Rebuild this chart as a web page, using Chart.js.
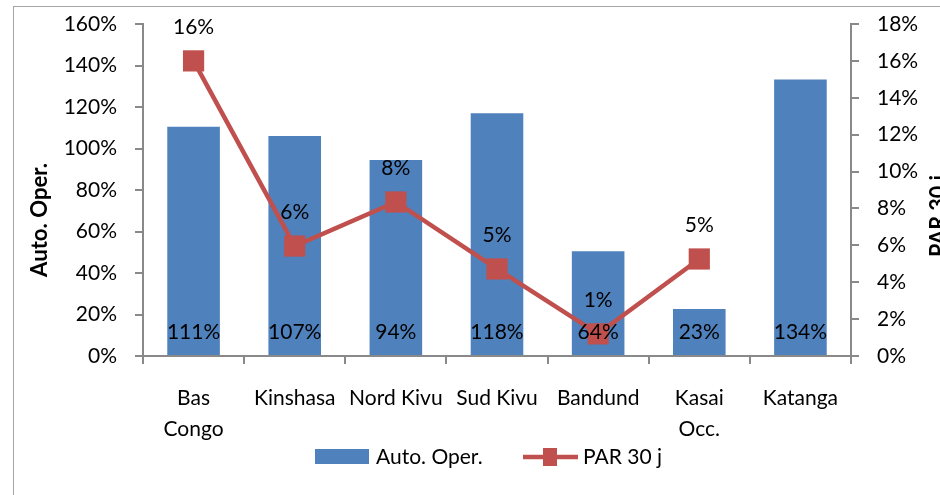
<!DOCTYPE html>
<html>
<head>
<meta charset="utf-8">
<script src="https://cdn.jsdelivr.net/npm/chart.js@4.4.0/dist/chart.umd.min.js"></script>
<style>
    html, body { margin: 0; padding: 0; background: #fff; }
    #wrap { width: 940px; height: 495px; }
</style>
</head>
<body>
<div id="wrap"><canvas id="chart" width="940" height="495"></canvas></div>
<script>
    // categories (multi-line where the original wraps)
    const provinces = [['Bas', 'Congo'], 'Kinshasa', 'Nord Kivu', 'Sud Kivu', 'Bandund', ['Kasai', 'Occ.'], 'Katanga'];
    // bar heights (%)
    const autoOper = [110.5, 106, 94.5, 117, 50.5, 22.7, 133.3];
    // the numbers printed inside the bars
    const autoOperLabels = [111, 107, 94, 118, 64, 23, 134];
    // PAR 30 j, right axis (%), no value for Katanga
    const par30 = [16.0, 5.96, 8.35, 4.72, 1.2, 5.26, null];

    const FONT = 'Lato';
    const axisGray = '#898989';
    const blue = '#4F81BD';
    const red = '#C0504D';

    const pct = v => v + '%';

    // rotated title, stretched to the length it has in the original
    function sideTitle(ctx, text, x, y, len) {
        ctx.save();
        ctx.translate(x, y);
        ctx.rotate(-Math.PI / 2);
        const w = ctx.measureText(text).width;
        ctx.scale(len / w, 1);
        ctx.fillText(text, 0, 0);
        ctx.restore();
    }

    // fixed axis widths, no extra padding for the end labels
    const fitY = w => s => {
        s.width = w;
        s.paddingTop = 0;
        s.paddingBottom = 0;
    };

    const extras = {
        id: 'extras',
        beforeDraw(chart) {
            const ctx = chart.ctx;
            ctx.save();
            ctx.strokeStyle = '#a6a6a6';
            ctx.lineWidth = 1;
            ctx.strokeRect(13.5, 6.5, 1200, 800);
            ctx.restore();
        },
        afterDatasetsDraw(chart) {
            const ctx = chart.ctx;
            ctx.save();
            ctx.fillStyle = '#000';
            ctx.font = '21px ' + FONT;
            ctx.textAlign = 'center';
            ctx.textBaseline = 'middle';
            // labels inside bars, near the base
            chart.getDatasetMeta(0).data.forEach((bar, i) => {
                ctx.fillText(autoOperLabels[i] + '%', bar.x, chart.chartArea.bottom - 24);
            });
            // labels above the line markers
            chart.getDatasetMeta(1).data.forEach((pt, i) => {
                if (par30[i] == null) return;
                ctx.fillText(Math.round(par30[i]) + '%', pt.x, pt.y - 34);
            });
            ctx.restore();
        },
        afterDraw(chart) {
            const ctx = chart.ctx;
            ctx.save();
            ctx.fillStyle = '#000';
            // axis titles, reading bottom to top
            ctx.font = 'bold 22px ' + FONT;
            ctx.textAlign = 'center';
            ctx.textBaseline = 'alphabetic';
            sideTitle(ctx, 'Auto. Oper.', 46.5, 220, 114);
            sideTitle(ctx, 'PAR 30 j', 946, 216, 82);

            // legend
            const ds = chart.data.datasets;
            ctx.font = '21px ' + FONT;
            ctx.textAlign = 'left';
            ctx.textBaseline = 'middle';
            const ly = 457;
            ctx.fillStyle = blue;
            ctx.fillRect(315, 449, 54, 15);
            ctx.fillStyle = '#000';
            ctx.fillText(ds[0].label, 376, ly);

            ctx.strokeStyle = red;
            ctx.lineWidth = 4.5;
            ctx.beginPath();
            ctx.moveTo(523, ly);
            ctx.lineTo(578, ly);
            ctx.stroke();
            ctx.fillStyle = red;
            ctx.fillRect(543, 448, 14, 18);
            ctx.fillStyle = '#000';
            ctx.fillText(ds[1].label, 583, ly);
            ctx.restore();
        }
    };

    new Chart(document.getElementById('chart'), {
        type: 'bar',
        data: {
            labels: provinces,
            datasets: [
                {
                    type: 'bar',
                    label: 'Auto. Oper.',
                    data: autoOper,
                    backgroundColor: blue,
                    yAxisID: 'y',
                    barPercentage: 0.52,
                    categoryPercentage: 1,
                    order: 2
                },
                {
                    type: 'line',
                    label: 'PAR 30 j',
                    data: par30,
                    borderColor: red,
                    backgroundColor: red,
                    borderWidth: 4.5,
                    pointStyle: 'rect',
                    pointRadius: 15,
                    pointBorderWidth: 0,
                    spanGaps: false,
                    yAxisID: 'y1',
                    order: 1
                }
            ]
        },
        options: {
            responsive: false,
            animation: false,
            layout: { padding: { top: 24, left: 0, right: 0, bottom: 0 } },
            plugins: {
                legend: { display: false },
                tooltip: { enabled: false }
            },
            scales: {
                x: {
                    afterFit: s => { s.height = 139; },
                    grid: { offset: true, drawOnChartArea: false, tickLength: 8, color: axisGray, lineWidth: 2 },
                    border: { color: axisGray, width: 2 },
                    ticks: { color: '#000', font: { family: FONT, size: 21, lineHeight: 1.48 }, padding: 19, maxRotation: 0, autoSkip: false }
                },
                y: {
                    position: 'left',
                    min: 0, max: 160,
                    afterFit: fitY(143),
                    grid: { drawOnChartArea: false, tickLength: 8, color: axisGray, lineWidth: 2 },
                    border: { color: axisGray, width: 2 },
                    ticks: { stepSize: 20, callback: pct, color: '#000', font: { family: FONT, size: 21 }, padding: 18 }
                },
                y1: {
                    position: 'right',
                    min: 0, max: 18,
                    afterFit: fitY(89),
                    grid: { drawOnChartArea: false, tickLength: 8, color: axisGray, lineWidth: 2 },
                    border: { color: axisGray, width: 2 },
                    ticks: { stepSize: 2, callback: pct, color: '#000', font: { family: FONT, size: 21 }, padding: 18 }
                }
            }
        },
        plugins: [extras]
    });
</script>
</body>
</html>
